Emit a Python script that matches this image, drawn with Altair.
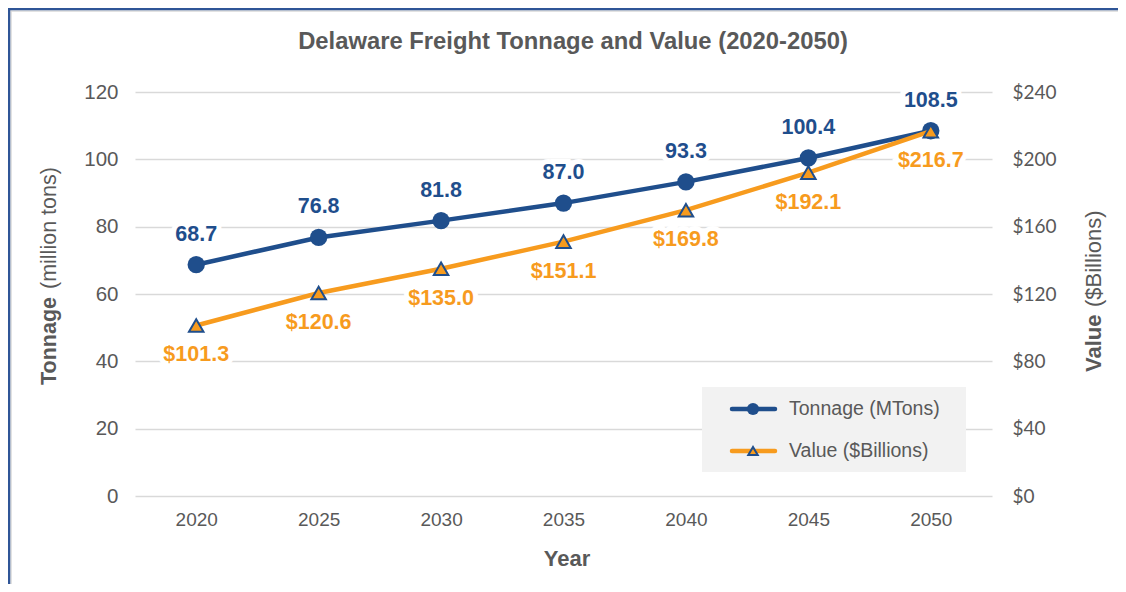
import altair as alt
import pandas as pd

# ---- data ----
years = ["2020", "2025", "2030", "2035", "2040", "2045", "2050"]
tonnage = [68.7, 76.8, 81.8, 87.0, 93.3, 100.4, 108.5]
value = [101.3, 120.6, 135.0, 151.1, 169.8, 192.1, 216.7]
tonnage_ticks = [0, 20, 40, 60, 80, 100, 120]
value_ticks = [0, 40, 80, 120, 160, 200, 240]
legend_names = ["Tonnage (MTons)", "Value ($Billions)"]
title_text = "Delaware Freight Tonnage and Value (2020-2050)"

df = pd.DataFrame({
    "Year": years,
    "Tonnage": tonnage,
    "Value": value,
    "TLabel": [f"{v:.1f}" for v in tonnage],
    "VLabel": [f"${v:.1f}" for v in value],
})

BLUE = "#1F4E8C"
ORANGE = "#F79B1E"
GRAY = "#595959"
GRID = "#D9D9D9"
FONT = "Liberation Sans"

W, H = 857, 404

x_enc = alt.X(
    "Year:O",
    scale=alt.Scale(type="point", padding=0.5),
    axis=alt.Axis(title=None, labelAngle=0, labelFont=FONT, labelFontSize=19,
                  labelColor=GRAY, labelPadding=14, domain=False, ticks=False),
)

y_t = alt.Y(
    "Tonnage:Q",
    scale=alt.Scale(domain=[0, 120], nice=False),
    axis=alt.Axis(values=tonnage_ticks, title=None, grid=True, gridColor=GRID,
                  gridWidth=1.5, domain=False, ticks=False, labelPadding=17,
                  labelFont=FONT, labelFontSize=20.5, labelColor=GRAY),
)

y_v = alt.Y(
    "Value:Q",
    scale=alt.Scale(domain=[0, 240], nice=False),
    axis=alt.Axis(orient="right", values=value_ticks, labelExpr="'$' + datum.value",
                  title=None, grid=False, domain=False, ticks=False, labelPadding=20,
                  labelFont="Lato", labelFontSize=19, labelColor=GRAY),
)

base = alt.Chart(df)

LBL = 21.5

# Tonnage series
t_halo = base.mark_text(dy=-30, fontSize=LBL, fontWeight="bold", font=FONT,
                        stroke="white", strokeWidth=10, color="white").encode(
    x=x_enc, y=y_t, text="TLabel:N")
t_line = base.mark_line(color=BLUE, strokeWidth=4.5).encode(x=x_enc, y=y_t)
t_pts = base.mark_point(shape="circle", filled=True, size=300, color=BLUE, opacity=1).encode(
    x=x_enc, y=y_t)
t_text = base.mark_text(dy=-30, fontSize=LBL, fontWeight="bold", font=FONT, color=BLUE).encode(
    x=x_enc, y=y_t, text="TLabel:N")
t_group = alt.layer(t_halo, t_line, t_pts, t_text)

# Value series
v_halo = base.mark_text(dy=30, fontSize=LBL, fontWeight="bold", font=FONT,
                        stroke="white", strokeWidth=10, color="white").encode(
    x=x_enc, y=y_v, text="VLabel:N")
v_line = base.mark_line(color=ORANGE, strokeWidth=4.5).encode(x=x_enc, y=y_v)
v_pts = base.mark_point(shape="triangle-up", filled=True, size=210, fill=ORANGE,
                        stroke=BLUE, strokeWidth=2, opacity=1).encode(x=x_enc, y=y_v)
v_text = base.mark_text(dy=30, fontSize=LBL, fontWeight="bold", font=FONT, color=ORANGE).encode(
    x=x_enc, y=y_v, text="VLabel:N")
v_group = alt.layer(v_halo, v_line, v_pts, v_text)

# Decorations: title, axis titles, legend, border
one = alt.Chart(pd.DataFrame({"k": [0]}))

title = one.mark_text(fontSize=23.8, fontWeight="bold", font=FONT, color=GRAY,
                      align="center", baseline="middle").encode(
    x=alt.value(438), y=alt.value(-50), text=alt.value(title_text))
xtitle = one.mark_text(fontSize=22, fontWeight="bold", font=FONT, color=GRAY,
                       align="center", baseline="middle").encode(
    x=alt.value(432), y=alt.value(467), text=alt.value("Year"))
yl_a = one.mark_text(fontSize=21.5, fontWeight="bold", font=FONT, color=GRAY, angle=270,
                     align="left", baseline="middle").encode(
    x=alt.value(-85), y=alt.value(293), text=alt.value("Tonnage"))
yl_b = one.mark_text(fontSize=21.5, font=FONT, color=GRAY, angle=270,
                     align="left", baseline="middle").encode(
    x=alt.value(-85), y=alt.value(197), text=alt.value("(million tons)"))
yr_a = one.mark_text(fontSize=22, fontWeight="bold", font=FONT, color=GRAY, angle=270,
                     align="left", baseline="middle").encode(
    x=alt.value(959), y=alt.value(280), text=alt.value("Value"))
yr_b = one.mark_text(fontSize=22, font=FONT, color=GRAY, angle=270,
                     align="left", baseline="middle").encode(
    x=alt.value(959), y=alt.value(215), text=alt.value("($Billions)"))

leg_box = one.mark_rect(color="#F2F2F2").encode(
    x=alt.value(567), x2=alt.value(831), y=alt.value(295), y2=alt.value(380))
leg_l1 = one.mark_rule(color=BLUE, strokeWidth=4.5, strokeCap="round").encode(
    x=alt.value(597), x2=alt.value(640), y=alt.value(317))
leg_p1 = one.mark_point(shape="circle", filled=True, size=150, color=BLUE, opacity=1).encode(
    x=alt.value(618), y=alt.value(317))
leg_l2 = one.mark_rule(color=ORANGE, strokeWidth=4.5, strokeCap="round").encode(
    x=alt.value(597), x2=alt.value(640), y=alt.value(359))
leg_p2 = one.mark_point(shape="triangle-up", filled=True, size=90, fill=ORANGE,
                        stroke=BLUE, strokeWidth=2, opacity=1).encode(
    x=alt.value(618), y=alt.value(359))
leg_t1 = one.mark_text(fontSize=19.5, font=FONT, color=GRAY, align="left", baseline="middle").encode(
    x=alt.value(654), y=alt.value(317), text=alt.value(legend_names[0]))
leg_t2 = one.mark_text(fontSize=19.5, font=FONT, color=GRAY, align="left", baseline="middle").encode(
    x=alt.value(654), y=alt.value(359), text=alt.value(legend_names[1]))

border_l = one.mark_rule(color="#2F5597", strokeWidth=2.5).encode(
    x=alt.value(-126), y=alt.value(-84), y2=alt.value(H + 88))
border_t = one.mark_rule(color="#2F5597", strokeWidth=2.5).encode(
    x=alt.value(-127), x2=alt.value(W + 126), y=alt.value(-83))
inner_l = one.mark_rule(color="#D9D9D9", strokeWidth=1.5).encode(
    x=alt.value(-124), y=alt.value(-82), y2=alt.value(H + 88))
inner_t = one.mark_rule(color="#D9D9D9", strokeWidth=1.5).encode(
    x=alt.value(-124), x2=alt.value(W + 126), y=alt.value(-81))

chart = alt.layer(
    t_group, v_group,
    title, xtitle, yl_a, yl_b, yr_a, yr_b,
    leg_box, leg_l1, leg_p1, leg_l2, leg_p2, leg_t1, leg_t2,
    inner_l, inner_t, border_l, border_t,
).resolve_scale(y="independent").properties(
    width=W, height=H,
    autosize=alt.AutoSizeParams(type="none"),
    padding={"left": 127, "top": 84, "right": 126, "bottom": 88},
    background="white",
).configure_view(stroke=None)

chart.save("out.html", embed_options={"renderer": "svg", "actions": False})
